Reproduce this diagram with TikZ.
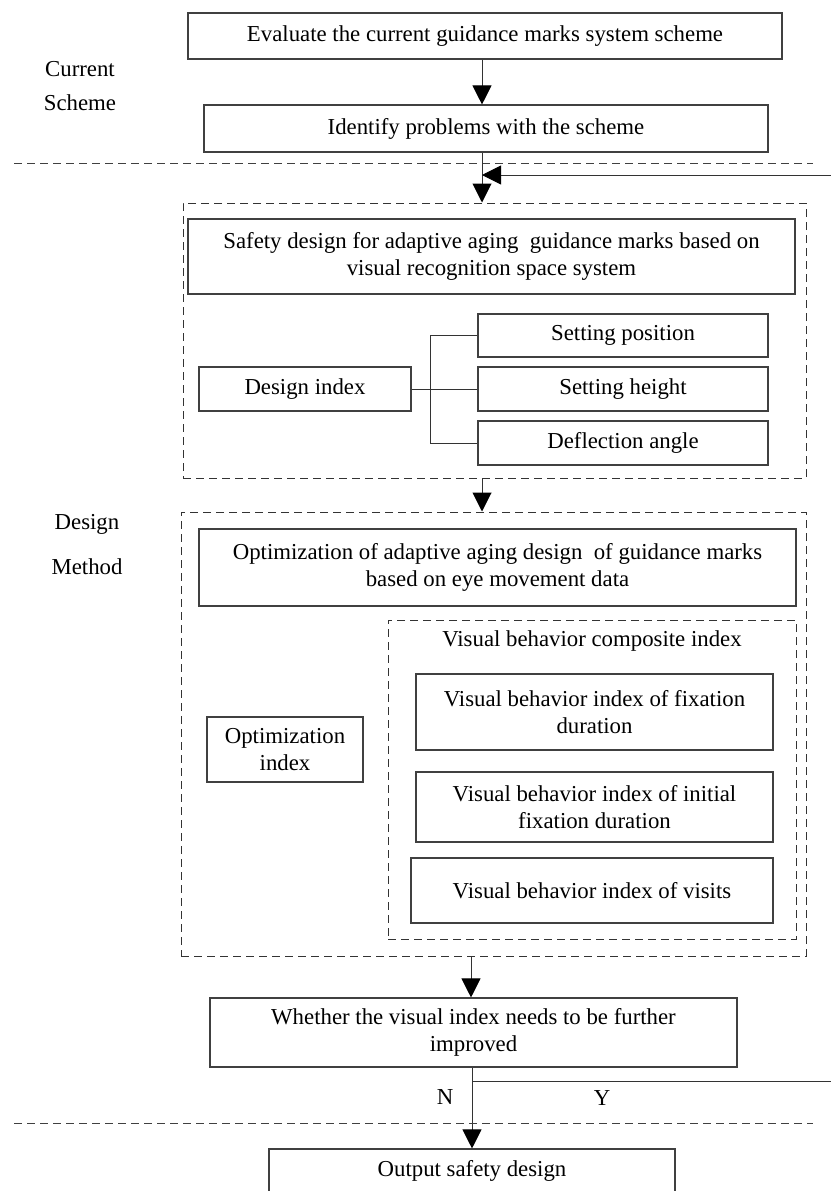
\documentclass[tikz,border=0pt]{standalone}
\usepackage{fontspec}
\setmainfont{Liberation Serif}
\usetikzlibrary{arrows.meta}

\tikzset{
  box/.style={draw=black!75, line width=1.1pt, rectangle, align=center, inner sep=0pt},
  dbox/.style={draw=black!80, line width=1pt, dash pattern=on 8pt off 5pt, rectangle, inner sep=0pt},
  sep/.style={draw=black!75, line width=1pt, dash pattern=on 8pt off 5pt},
  arr/.style={draw=black!80, line width=1pt, -{Triangle[width=19pt,length=19pt,color=black]}},
  link/.style={draw=black!80, line width=1pt},
  lbl/.style={align=center, inner sep=0pt}
}

\begin{document}
\begin{tikzpicture}[x=1pt,y=-1pt,font=\fontsize{22.8}{27}\selectfont]

   \useasboundingbox (0,0) rectangle (830,1191);

   % current scheme
   \node[lbl] (cur) at (80,86) {Current\\[7pt]Scheme};
   \node[box, minimum width=594pt, minimum height=46pt] (eval) at (485,36)
      {Evaluate the current guidance marks system scheme};
   \node[box, minimum width=564pt, minimum height=47pt] (ident) at (486,128.5)
      {Identify problems with the scheme};
   \draw[arr] (eval.south -| 482,0) -- (ident.north -| 482,0);
   \draw[sep] (14,163) -- (813,163);

   % design method
   \node[lbl] (dm) at (87,544.5) {Design\\[18pt]Method};

   \node[dbox, minimum width=623pt, minimum height=275pt] (spacebox) at (494.5,340.5) {};
   \node[box, minimum width=607pt, minimum height=75pt] (safety) at (491.5,256.5)
      {Safety design for adaptive aging\ \ guidance marks based on\\visual recognition space system};
   \node[box, minimum width=212pt, minimum height=44pt] (dindex) at (305,389) {Design index};
   \node[box, minimum width=290pt, minimum height=43pt] (setpos) at (623,335.5) {Setting position};
   \node[box, minimum width=290pt, minimum height=44pt] (setht) at (623,389) {Setting height};
   \node[box, minimum width=290pt, minimum height=44pt] (defl) at (623,443) {Deflection angle};
   \draw[link] (dindex.east) -- (setht.west);
   \draw[link] (setpos.west) -- ++(-47,0) |- (defl.west);
   \draw[arr] (ident.south -| 482,0) -- (spacebox.north -| 482,0);

   \node[dbox, minimum width=625pt, minimum height=444pt] (eyebox) at (493.5,734) {};
   \node[box, minimum width=597pt, minimum height=77pt] (optim) at (497.5,567.5)
      {Optimization of adaptive aging design\ \ of guidance marks\\based on eye movement data};
   \node[box, minimum width=156pt, minimum height=65pt] (optidx) at (285,749.5)
      {Optimization\\index};
   \node[dbox, minimum width=408pt, minimum height=319pt] (vbox) at (592,779.5) {};
   \node[lbl] (comp) at (592,641) {Visual behavior composite index};
   \node[box, minimum width=357pt, minimum height=76pt] (vb1) at (594.5,712)
      {Visual behavior index of fixation\\duration};
   \node[box, minimum width=357pt, minimum height=70pt] (vb2) at (594.5,807)
      {Visual behavior index of initial\\fixation duration};
   \node[box, minimum width=362pt, minimum height=65pt] (vb3) at (592,890.5)
      {Visual behavior index of visits};
   \draw[arr] (spacebox.south -| 482,0) -- (eyebox.north -| 482,0);

   % decision and output
   \node[box, minimum width=527pt, minimum height=69pt] (whether) at (473.5,1032.5)
      {Whether the visual index needs to be further\\improved};
   \draw[arr] (eyebox.south -| 471,0) -- (whether.north -| 471,0);
   \coordinate (yj) at (472,1081);
   \node[box, minimum width=406pt, minimum height=44pt] (output) at (472,1171)
      {Output safety design};
   \draw[arr] (whether.south -| 472,0) -- (output.north -| 472,0);
   \draw[arr] (yj) -- (860,1081) -- (860,175) -- (482,175);
   \node[lbl] (nlbl) at (445,1097) {N};
   \node[lbl] (ylbl) at (602,1098) {Y};
   \draw[sep] (14,1123) -- (813,1123);

\end{tikzpicture}
\end{document}
